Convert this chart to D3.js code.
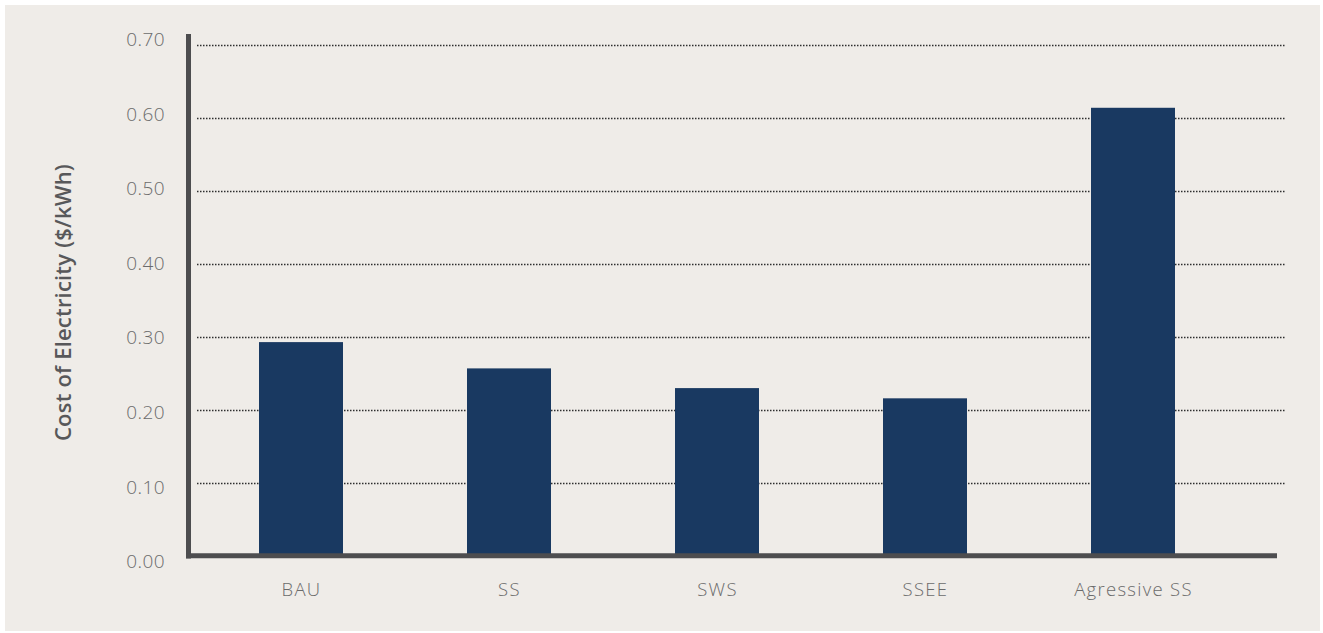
<!DOCTYPE html>
<html>
<head>
<meta charset="utf-8">
<script src="https://cdn.jsdelivr.net/npm/d3@7"></script>
<style>
  html, body { margin: 0; padding: 0; background: #ffffff; }
  svg { display: block; }
</style>
</head>
<body>
<svg id="chart" width="1323" height="633"></svg>
<script>
const categories = ["BAU", "SS", "SWS", "SSEE", "Agressive SS"];
const costValues = [0.293, 0.257, 0.230, 0.216, 0.614];
const yTicks = [0.00, 0.10, 0.20, 0.30, 0.40, 0.50, 0.60, 0.70];
const yTitle = "Cost of Electricity ($/kWh)";

const svg = d3.select("#chart");
const font = "'Open Sans', Lato, sans-serif";

svg.append("rect").attr("x", 5).attr("y", 5).attr("width", 1315).attr("height", 626)
  .attr("fill", "#efece8");

const x = d3.scaleBand().domain(categories).range([197.5, 1237.5])
  .paddingInner(0.596).paddingOuter(0.298);
const y = d3.scaleLinear().domain([0, 0.7]).range([556, 45]);
const yLabel = y.copy().range([561.5, 39.5]);

// gridlines
svg.append("g").selectAll("line").data(yTicks.filter(d => d > 0)).join("line")
  .attr("x1", 197).attr("x2", 1285)
  .attr("y1", d => Math.round(y(d)) + 0.5).attr("y2", d => Math.round(y(d)) + 0.5)
  .attr("stroke", "#2e2e2e").attr("stroke-width", 1.3)
  .attr("stroke-dasharray", "1.5,1.5");

// bars
svg.append("g").selectAll("rect").data(categories).join("rect")
  .attr("x", d => Math.round(x(d))).attr("width", Math.round(x.bandwidth()))
  .attr("y", (d, i) => y(costValues[i]))
  .attr("height", (d, i) => y(0) - y(costValues[i]))
  .attr("fill", "#193961");

// axes lines
svg.append("line").attr("x1", 188.5).attr("x2", 188.5).attr("y1", 34).attr("y2", 558.5)
  .attr("stroke", "#4d4d4f").attr("stroke-width", 5);
svg.append("line").attr("x1", 186).attr("x2", 1277).attr("y1", 555.8).attr("y2", 555.8)
  .attr("stroke", "#4d4d4f").attr("stroke-width", 5);

// y tick labels
svg.append("g").selectAll("text").data(yTicks).join("text")
  .attr("x", 165).attr("y", d => yLabel(d))
  .attr("dy", "0.35em").attr("text-anchor", "end")
  .attr("font-family", font).attr("font-size", 19).attr("font-weight", 300)
  .attr("letter-spacing", 0.4)
  .attr("fill", "#6b6b6b")
  .text(d => d.toFixed(2));

// x labels
svg.append("g").selectAll("text").data(categories).join("text")
  .attr("x", d => x(d) + x.bandwidth() / 2).attr("y", 590)
  .attr("dy", "0.35em").attr("text-anchor", "middle")
  .attr("font-family", font).attr("font-size", 18.5).attr("font-weight", 300)
  .attr("letter-spacing", 1.3)
  .attr("fill", "#6b6b6b")
  .text(d => d);

// y title
svg.append("text")
  .attr("transform", "translate(63,302.5) rotate(-90)")
  .attr("text-anchor", "middle").attr("dy", "0.35em")
  .attr("font-family", font).attr("font-size", 22).attr("font-weight", 600)
  .attr("letter-spacing", 0.2)
  .attr("fill", "#58585a")
  .text(yTitle);
</script>
</body>
</html>
